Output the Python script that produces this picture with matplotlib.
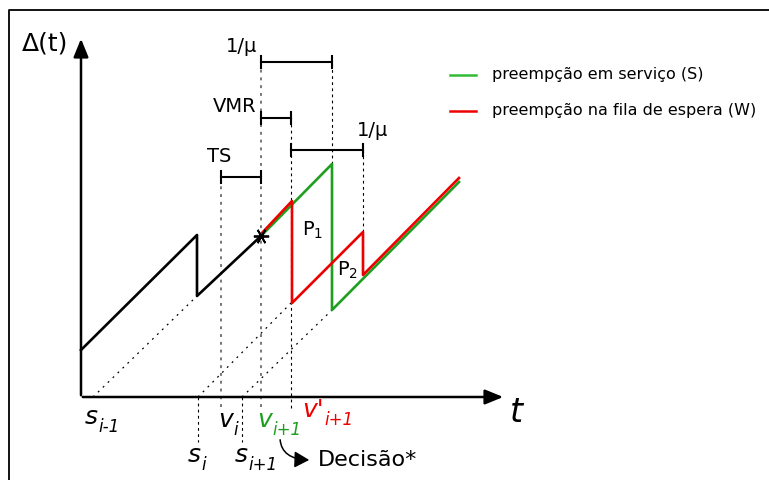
import matplotlib
matplotlib.use("Agg")
import matplotlib.pyplot as plt
from matplotlib.patches import FancyArrowPatch

# diagram coordinates: origin at the axes corner, time to the right, age up
s_prev, s_i, v_i, s_next, v_next, v_prime = 12, 117, 140, 161, 180, 210
t_green_drop, t_red_drop, t_end = 251, 282, 378

black_x = [0, 116, 116, 180]
black_y = [47, 162, 101, 161]

green_x = [180, 251, 251, t_end]
green_y = [161, 233, 87, 215]

red_x = [180, 211, 211, 282, 282, t_end]
red_y = [163, 196, 94, 165, 122, 219]

# (y, x0, x1)
brackets = [
    (335, v_next, t_green_drop),
    (279, v_next, v_prime),
    (247, v_prime, t_red_drop),
    (220, v_i, v_next),
]

# (x, y, main, subscript, colour)
time_labels = [
    (4, -20, "s", "i-1", "black"),
    (137, -23, "v", "i", "black"),
    (176, -23, "v", "i+1", "#1f9f1f"),
    (221, -13, "v'", "i+1", "#ee0000"),
    (107, -58, "s", "i", "black"),
    (154, -58, "s", "i+1", "black"),
]

green = "#1f9f1f"
red = "#ee0000"

fig = plt.figure(figsize=(7.69, 4.80), dpi=100)
ax = fig.add_axes([0, 0, 1, 1])
ax.set_xlim(-81, 688)
ax.set_ylim(-83, 397)
ax.axis("off")

# frame
ax.plot([-72, -72, 690], [-90, 387.5, 387.5], color="black", lw=1.3, clip_on=False)

# axes with arrow heads
ax.annotate("", xy=(0, 361), xytext=(0, -1),
            arrowprops=dict(arrowstyle="-|>,head_length=1.1,head_width=0.45", color="black", lw=1.8))
ax.annotate("", xy=(425, 0), xytext=(-1, 0),
            arrowprops=dict(arrowstyle="-|>,head_length=1.1,head_width=0.45", color="black", lw=1.8))
ax.text(-59, 354, "Δ(t)", fontsize=18, va="center", ha="left")
ax.text(429, -15, "t", fontsize=24, style="italic", va="center", ha="left")

# dotted guides
grey_dot = dict(color="#777777", lw=1.4, ls=(0, (1.5, 2.5)))
thin_dash = dict(color="black", lw=0.8, ls=(0, (2.5, 3)))
ax.plot([v_i, v_i], [-10, 220], **grey_dot)
ax.plot([v_next, v_next], [-10, 335], **grey_dot)
ax.plot([v_prime, v_prime], [-11, 279], **thin_dash)
ax.plot([t_green_drop, t_green_drop], [233, 335], **thin_dash)
ax.plot([t_red_drop, t_red_drop], [165, 247], **thin_dash)
ax.plot([s_i, s_i], [0, -45], **thin_dash)
ax.plot([s_next, s_next], [0, -45], **thin_dash)

diag = dict(color="black", lw=0.9, ls=(0, (1.5, 4)))
ax.plot([s_prev, 116], [0, 101], **diag)
ax.plot([s_i, 210], [0, 94], **diag)
ax.plot([s_next, 251], [0, 87], **diag)

# brackets
for y, x0, x1 in brackets:
    ax.plot([x0, x1], [y, y], color="black", lw=1.5)
    ax.plot([x0, x0], [y - 6, y + 6], color="black", lw=1.5)
    ax.plot([x1, x1], [y - 6, y + 6], color="black", lw=1.5)
ax.text(176, 350, "1/μ", fontsize=14, ha="right", va="center")
ax.text(175, 290, "VMR", fontsize=14, ha="right", va="center")
ax.text(276, 267, "1/μ", fontsize=14, ha="left", va="center")
ax.text(126, 240, "TS", fontsize=14, ha="left", va="center")

# age curves
ax.plot(black_x, black_y, color="black", lw=1.9)
ax.plot(green_x, green_y, color=green, lw=1.9)
ax.plot(red_x, red_y, color=red, lw=1.9)
ax.plot([180], [161], marker=(6, 2, 90), color="black", ms=11, mew=1.3)

ax.text(221, 167, "P$_1$", fontsize=14, ha="left", va="center")
ax.text(256, 127, "P$_2$", fontsize=14, ha="left", va="center")

# time labels with italic subscripts
for x, y, main, sub, col in time_labels:
    t = ax.text(x, y, main, fontsize=18, style="italic", color=col, ha="left", va="center")
    ax.annotate(sub, xy=(1, 0.1), xycoords=t, xytext=(0.5, 0), textcoords="offset points",
                fontsize=12, style="italic", color=col, ha="left", va="center")

ax.text(237, -63, "Decisão*", fontsize=16, ha="left", va="center")
ax.add_patch(FancyArrowPatch((199, -40), (231, -63), connectionstyle="angle3,angleA=90,angleB=0",
                             arrowstyle="-|>,head_length=9,head_width=5", color="black", lw=1.1))

# legend
ax.plot([369, 395], [322, 322], color="#33bb33", lw=1.8)
ax.plot([369, 395], [286, 286], color=red, lw=1.8)
ax.text(411, 322, "preempção em serviço (S)", fontsize=11.5, ha="left", va="center")
ax.text(411, 286, "preempção na fila de espera (W)", fontsize=11.5, ha="left", va="center")

fig.savefig("out.png", dpi=100)
